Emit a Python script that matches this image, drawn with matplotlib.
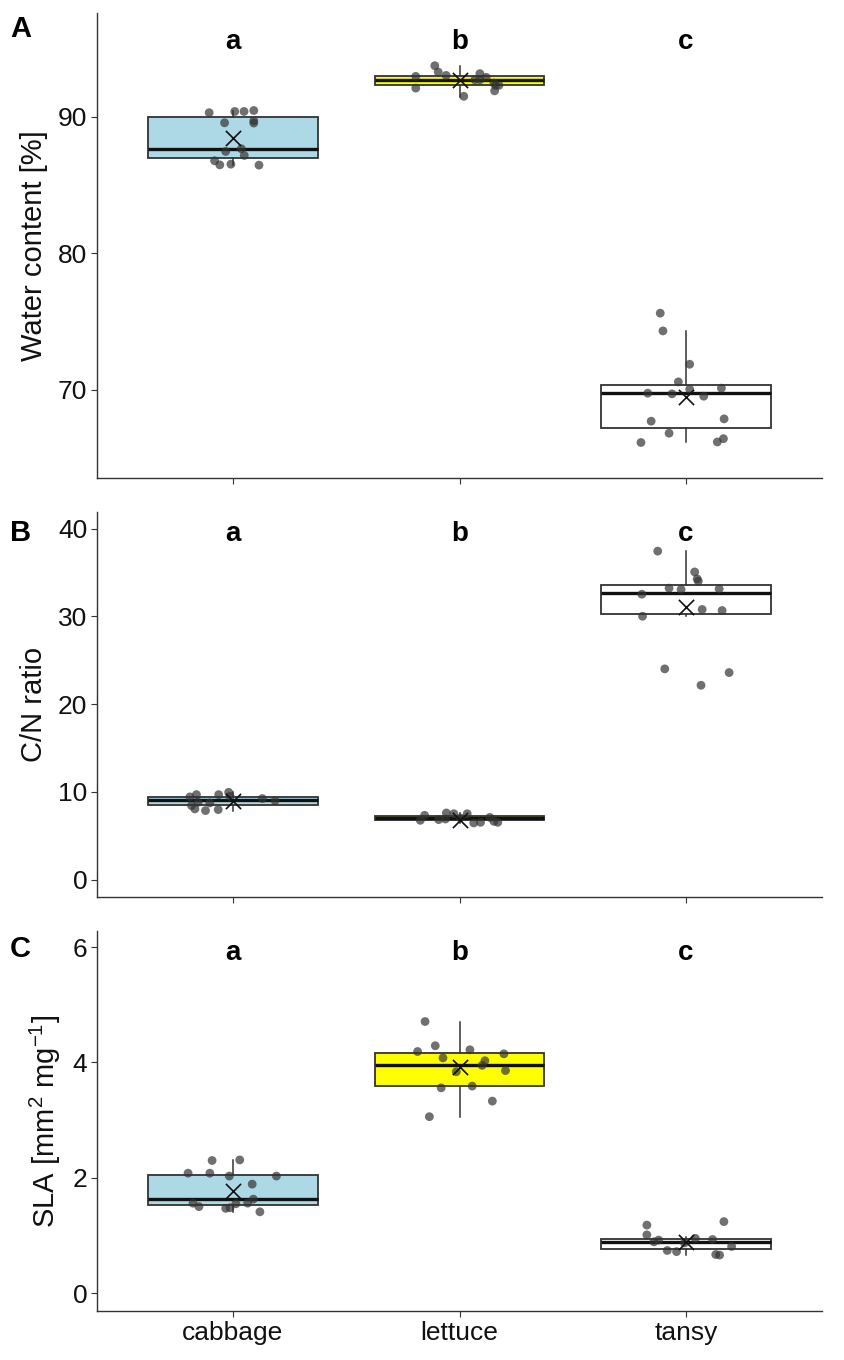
import matplotlib
matplotlib.use("Agg")
import matplotlib.pyplot as plt
import numpy as np

plt.rcParams['font.family'] = ['Liberation Sans', 'DejaVu Sans']
plt.rcParams['mathtext.default'] = 'regular'

plants = ['cabbage', 'lettuce', 'tansy']
box_colors = ['#add8e6', '#ffff00', '#ffffff']
letters = ['a', 'b', 'c']

# box statistics: q1, median, q3, whisker low, whisker high, mean
water_stats = [
    (87.00, 87.66, 90.00, 86.46, 90.46, 88.44),
    (92.30, 92.67, 92.99, 91.42, 93.69, 92.70),
    (67.22, 69.74, 70.34, 66.17, 74.34, 69.51),
]
cn_stats = [
    (8.55, 9.04, 9.42, 7.87, 9.95, 8.93),
    (6.77, 7.03, 7.30, 6.46, 7.60, 6.80),
    (30.22, 32.64, 33.55, 30.02, 37.43, 31.05),
]
sla_stats = [
    (1.52, 1.64, 2.05, 1.41, 2.31, 1.77),
    (3.59, 3.95, 4.16, 3.06, 4.71, 3.92),
    (0.77, 0.88, 0.94, 0.66, 0.98, 0.89),
]

# single measurements (values) and their horizontal jitter (in category units)
water_cabbage = [90.30, 90.39, 90.39, 90.46, 89.56, 89.71, 89.54, 87.66, 87.46, 87.17, 86.78, 86.48, 86.53, 86.46]
water_cabbage_jit = [-0.105, 0.008, 0.049, 0.092, -0.037, 0.092, 0.092, 0.037, -0.032, 0.050, -0.081, -0.058, -0.009, 0.115]
water_lettuce = [92.96, 92.10, 93.74, 93.28, 93.03, 91.50, 92.71, 93.16, 92.71, 92.89, 92.47, 92.30, 92.30, 91.90]
water_lettuce_jit = [-0.193, -0.193, -0.109, -0.094, -0.059, 0.019, 0.068, 0.090, 0.090, 0.118, 0.152, 0.159, 0.174, 0.155]
water_tansy = [75.62, 74.32, 71.88, 70.59, 70.05, 70.13, 69.76, 69.71, 69.54, 67.71, 67.88, 66.83, 66.15, 66.19, 66.43]
water_tansy_jit = [-0.114, -0.102, 0.016, -0.034, 0.016, 0.156, -0.169, -0.062, 0.078, -0.154, 0.168, -0.075, -0.199, 0.138, 0.165]

cn_cabbage = [9.43, 9.69, 8.82, 8.44, 8.06, 7.87, 8.74, 9.69, 7.98, 9.95, 9.50, 9.24, 9.00]
cn_cabbage_jit = [-0.190, -0.161, -0.154, -0.183, -0.168, -0.121, -0.102, -0.063, -0.065, -0.019, -0.013, 0.130, 0.186]
cn_lettuce = [7.33, 6.76, 6.84, 7.60, 6.91, 7.51, 7.51, 6.46, 6.53, 7.09, 6.64, 6.53, 7.03]
cn_lettuce_jit = [-0.154, -0.173, -0.092, -0.058, -0.062, -0.025, 0.034, 0.063, 0.093, 0.134, 0.152, 0.169, 0.004]
cn_tansy = [37.44, 35.07, 34.28, 34.02, 33.22, 33.07, 33.14, 32.53, 30.79, 30.67, 30.02, 24.02, 22.15, 23.60]
cn_tansy_jit = [-0.125, 0.038, 0.049, 0.054, -0.075, -0.022, 0.146, -0.195, 0.071, 0.159, -0.192, -0.094, 0.066, 0.190]

sla_cabbage = [2.30, 2.31, 2.08, 2.08, 2.03, 2.03, 1.89, 1.63, 1.56, 1.56, 1.50, 1.47, 1.55, 1.48, 1.41]
sla_cabbage_jit = [-0.092, 0.030, -0.198, -0.102, -0.016, 0.192, 0.085, 0.090, 0.065, -0.176, -0.150, -0.032, 0.013, -0.013, 0.119]
sla_lettuce = [4.71, 4.29, 4.19, 4.22, 4.08, 4.15, 4.03, 3.95, 3.86, 3.84, 3.56, 3.59, 3.33, 3.06]
sla_lettuce_jit = [-0.152, -0.107, -0.185, 0.046, -0.073, 0.196, 0.112, 0.100, 0.203, -0.014, -0.081, 0.056, 0.145, -0.133]
sla_tansy = [1.18, 1.24, 1.01, 0.89, 0.92, 0.95, 0.93, 0.74, 0.72, 0.67, 0.66, 0.81, 0.87]
sla_tansy_jit = [-0.173, 0.167, -0.173, -0.142, -0.121, 0.041, 0.117, -0.083, -0.042, 0.131, 0.148, 0.201, -0.007]

panels = [
    dict(tag='A', ylabel='Water content [%]', stats=water_stats,
         pts=[(water_cabbage, water_cabbage_jit), (water_lettuce, water_lettuce_jit), (water_tansy, water_tansy_jit)],
         ylim=(63.55, 97.6), yticks=[70, 80, 90], letter_y=95.0),
    dict(tag='B', ylabel='C/N ratio', stats=cn_stats,
         pts=[(cn_cabbage, cn_cabbage_jit), (cn_lettuce, cn_lettuce_jit), (cn_tansy, cn_tansy_jit)],
         ylim=(-1.98, 41.9), yticks=[0, 10, 20, 30, 40], letter_y=38.6),
    dict(tag='C', ylabel='SLA [mm$^{2}$ mg$^{-1}$]', stats=sla_stats,
         pts=[(sla_cabbage, sla_cabbage_jit), (sla_lettuce, sla_lettuce_jit), (sla_tansy, sla_tansy_jit)],
         ylim=(-0.31, 6.28), yticks=[0, 2, 4, 6], letter_y=5.77),
]

W, H = 844, 1360
fig = plt.figure(figsize=(W / 100, H / 100), dpi=100)

# axes boxes in pixels: (left, top, right, bottom)
boxes = [(97, 13, 822, 478), (97, 512, 822, 897), (97, 931, 822, 1311)]
tag_y = [37, 541, 957]

line_col = '#333333'
pos = np.arange(1, 4)

for k, (p, (l, t, r, b)) in enumerate(zip(panels, boxes)):
    ax = fig.add_axes([l / W, 1 - b / H, (r - l) / W, (b - t) / H])
    stats = []
    for s in p['stats']:
        q1, med, q3, lo, hi, mean = s
        stats.append(dict(q1=q1, med=med, q3=q3, whislo=lo, whishi=hi, mean=mean, fliers=[]))
    bp = ax.bxp(stats, positions=pos, widths=0.75, patch_artist=True,
                showcaps=False, showfliers=False, showmeans=False,
                boxprops=dict(edgecolor=line_col, linewidth=1.3),
                whiskerprops=dict(color=line_col, linewidth=1.1),
                medianprops=dict(color='#111111', linewidth=2.4))
    for patch, c in zip(bp['boxes'], box_colors):
        patch.set_facecolor(c)

    for i, (vals, jit) in enumerate(p['pts']):
        ax.scatter(pos[i] + np.array(jit), vals, s=40, color='#333333', alpha=0.7,
                   edgecolors='none', zorder=4)
    means = [s[5] for s in p['stats']]
    ax.scatter(pos, means, marker='x', s=120, color='#111111', linewidths=1.2, zorder=5)

    for i, let in enumerate(letters):
        ax.text(pos[i], p['letter_y'], let, ha='center', va='baseline',
                fontsize=20, fontweight='bold', color='black')

    ax.set_xlim(0.4, 3.6)
    ax.set_ylim(*p['ylim'])
    ax.set_yticks(p['yticks'])
    ax.set_xticks(pos)
    if k == 2:
        ax.set_xticklabels(plants, fontsize=19)
    else:
        ax.set_xticklabels([])
    ax.tick_params(axis='both', labelsize=19, length=4, width=0.8, color=line_col,
                   labelcolor='#111111', pad=3)
    ax.set_ylabel(p['ylabel'], fontsize=21, color='#111111', labelpad=7)
    for side in ['top', 'right']:
        ax.spines[side].set_visible(False)
    for side in ['left', 'bottom']:
        ax.spines[side].set_color(line_col)
        ax.spines[side].set_linewidth(1.0)

    fig.text(10 / W, 1 - tag_y[k] / H, p['tag'], fontsize=21, fontweight='bold',
             ha='left', va='baseline')

fig.savefig('out.png', dpi=100)
